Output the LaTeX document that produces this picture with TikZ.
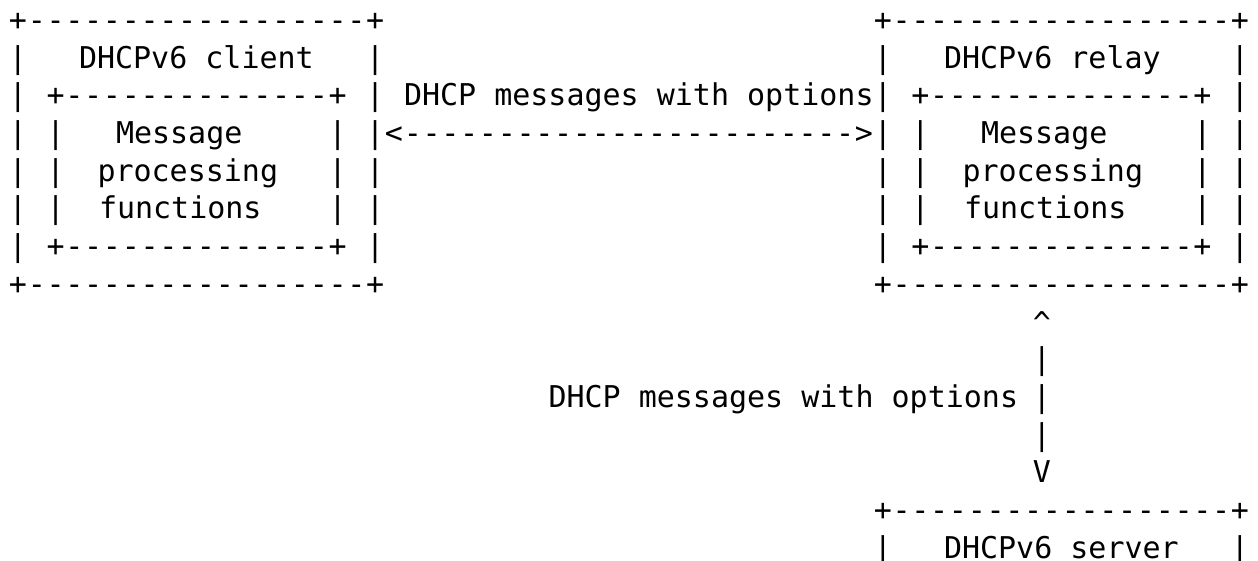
\documentclass[tikz,border=0pt]{standalone}
\usepackage{fontspec}
\newfontfamily\artmono{DejaVu Sans Mono}
\tikzset{
  glyph/.style={font=\artmono\fontsize{22.5}{27}\selectfont, inner sep=0pt, outer sep=0pt, anchor=base, text=black},
  run/.style={glyph, anchor=base west},
}
% grid helpers: column centre and row baseline, in px
\newcommand\cx[1]{18+18.8*(#1)}
\newcommand\ry[1]{30.3+37.7*(#1)}
% horizontal box edge: + at both ends, dashes between
\newcommand\boxedge[4]{%
  \node[glyph] (#1-l) at ({\cx{#2}},{\ry{#4}}) {+};
  \node[glyph] (#1-r) at ({\cx{#3}},{\ry{#4}}) {+};
  \pgfmathtruncatemacro\edgefirst{#2+1}%
  \pgfmathtruncatemacro\edgelast{#3-1}%
  \foreach \c in {\edgefirst,...,\edgelast}{\node[glyph] (#1-\c) at ({\cx{\c}},{\ry{#4}}) {-};}
}
\begin{document}
\begin{tikzpicture}[x=0.75pt, y=-0.75pt]
  \fill[white] (0,0) rectangle (1258,561);
  \useasboundingbox (0,0) rectangle (1258,561);
  \clip (0,0) rectangle (1258,561);

  % client and relay outer boxes
  \boxedge{clitop}{0}{19}{0}
  \boxedge{clibot}{0}{19}{7}
  \boxedge{reltop}{46}{65}{0}
  \boxedge{relbot}{46}{65}{7}
  \foreach \r in {1,...,6}{
    \foreach \c in {0,19,46,65}{\node[glyph] (bar-\c-\r) at ({\cx{\c}},{\ry{\r}}) {|};}
  }

  % inner processing boxes
  \boxedge{cliin-top}{2}{17}{2}
  \boxedge{cliin-bot}{2}{17}{6}
  \boxedge{relin-top}{48}{63}{2}
  \boxedge{relin-bot}{48}{63}{6}
  \foreach \r in {3,4,5}{
    \foreach \c in {2,17,48,63}{\node[glyph] (ibar-\c-\r) at ({\cx{\c}},{\ry{\r}}) {|};}
  }

  % box titles and contents
  \node[run] (cli) at (79,{\ry{1}}) {DHCPv6 client};
  \node[run] (rel) at (944,{\ry{1}}) {DHCPv6 relay};
  \node[run] (cli-m1) at (116,{\ry{3}}) {Message};
  \node[run] (cli-m2) at (97.5,{\ry{4}}) {processing};
  \node[run] (cli-m3) at (99,{\ry{5}}) {functions};
  \node[run] (rel-m1) at (981,{\ry{3}}) {Message};
  \node[run] (rel-m2) at (962.5,{\ry{4}}) {processing};
  \node[run] (rel-m3) at (964,{\ry{5}}) {functions};

  % client <-> relay exchange
  \node[run] (lbl-top) at (404,{\ry{2}}) {DHCP messages with options};
  \node[glyph] (arr-l) at ({\cx{20}},{\ry{3}}) {<};
  \foreach \c in {21,...,44}{\node[glyph] (arr-\c) at ({\cx{\c}},{\ry{3}}) {-};}
  \node[glyph] (arr-r) at ({\cx{45}},{\ry{3}}) {>};

  % relay <-> server exchange
  \node[glyph] (up) at (1042,{\ry{8}+2}) {\char"5E};
  \node[glyph] (vl1) at (1042,{\ry{9}}) {|};
  \node[glyph] (vl2) at (1042,{\ry{10}}) {|};
  \node[glyph] (vl3) at (1042,{\ry{11}}) {|};
  \node[glyph] (down) at (1042,{\ry{12}}) {V};
  \node[run] (lbl-side) at (548.5,{\ry{10}}) {DHCP messages with options};

  % server box (top part)
  \boxedge{srvtop}{46}{65}{13}
  \node[glyph] (srv-l) at ({\cx{46}},{\ry{14}}) {|};
  \node[glyph] (srv-r) at ({\cx{65}},{\ry{14}}) {|};
  \node[run] (srv) at (944,{\ry{14}}) {DHCPv6 server};
\end{tikzpicture}
\end{document}
